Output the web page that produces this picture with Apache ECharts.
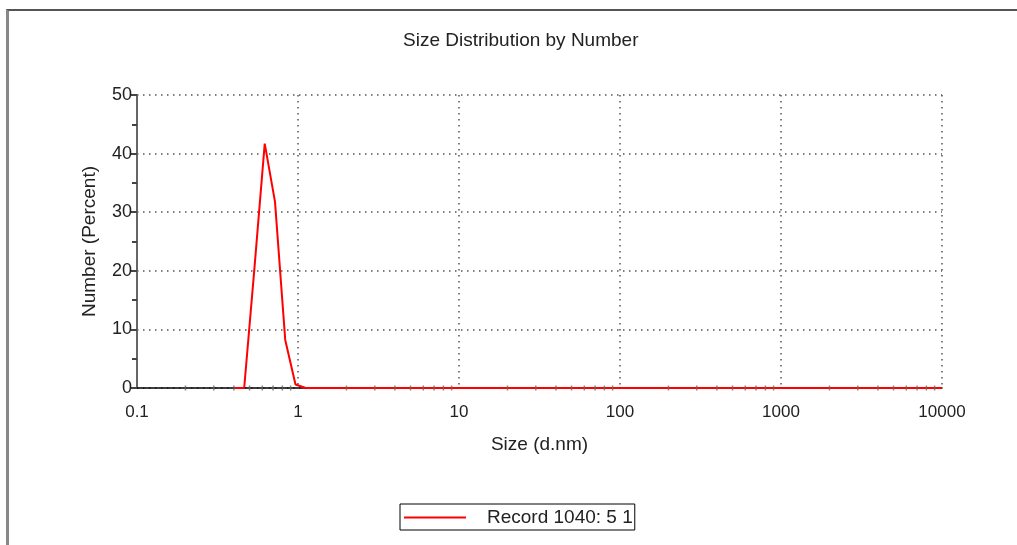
<!DOCTYPE html>
<html>
<head>
<meta charset="utf-8">
<script src="https://cdn.jsdelivr.net/npm/echarts@6/dist/echarts.min.js"></script>
<style>
html,body{margin:0;padding:0;background:#fff;}
#chart{width:1017px;height:545px;position:absolute;left:0;top:0;}
#frame{position:absolute;left:6px;top:9px;width:1011px;height:536px;border-top:2px solid #555;border-left:3px solid #888;box-sizing:border-box;pointer-events:none;}
</style>
</head>
<body>
<div id="chart"></div>
<div id="frame"></div>
<script>
const titleText = 'Size Distribution by Number';
const xAxisName = 'Size (d.nm)';
const yAxisName = 'Number (Percent)';
const seriesName = 'Record 1040: 5 1';
const xTickLabels = ['0.1', '1', '10', '100', '1000', '10000'];
const sizes = [0.4000, 0.4632, 0.5365, 0.6213, 0.7195, 0.8332, 0.9649, 1.117, 1.294, 1.499,
  1.736, 2.010, 2.328, 2.696, 3.122, 3.615, 4.187, 4.849, 5.615, 6.503,
  7.531, 8.721, 10.10, 11.70, 13.54, 15.69, 18.17, 21.04, 24.36, 28.21,
  32.67, 37.84, 43.82, 50.75, 58.77, 68.06, 78.82, 91.28, 105.7, 122.4,
  141.8, 164.2, 190.1, 220.2, 255.0, 295.3, 342.0, 396.1, 458.7, 531.2,
  615.1, 712.4, 825.0, 955.4, 1106, 1281, 1484, 1718, 1990, 2305,
  2669, 3091, 3580, 4145, 4801, 5560, 6439, 7456, 8635, 10000];
const numberPct = [0, 0, 20.5, 41.7, 31.8, 8.2, 0.6, 0, 0, 0,
  0, 0, 0, 0, 0, 0, 0, 0, 0, 0,
  0, 0, 0, 0, 0, 0, 0, 0, 0, 0,
  0, 0, 0, 0, 0, 0, 0, 0, 0, 0,
  0, 0, 0, 0, 0, 0, 0, 0, 0, 0,
  0, 0, 0, 0, 0, 0, 0, 0, 0, 0,
  0, 0, 0, 0, 0, 0, 0, 0, 0, 0];

// minor tick positions on the log axis (2..9 within each decade)
const minorTickPos = [];
for (let d = 0.1; d < 10000; d *= 10) {
  for (let k = 2; k <= 9; k++) minorTickPos.push([+(d * k).toPrecision(6), 0]);
}

const FONT = '"Liberation Sans", Arial, sans-serif';
const chart = echarts.init(document.getElementById('chart'), null, {renderer: 'canvas'});
const dotted = {color: '#555', width: 1.5, type: [1.5, 4.5]};

chart.setOption({
  animation: false,
  backgroundColor: '#fff',
  title: {
    text: titleText, left: 398, top: 26,
    textStyle: {fontFamily: FONT, fontSize: 19, fontWeight: 'normal', color: '#222'}
  },
  grid: {left: 137, right: 75, top: 95, bottom: 157},
  legend: {
    data: [seriesName],
    left: 400, top: 504,
    padding: [4, 2, 3, 4],
    icon: 'rect',
    itemWidth: 62, itemHeight: 2,
    borderColor: '#000', borderWidth: 1, borderRadius: 0,
    textStyle: {fontFamily: FONT, fontSize: 19, color: '#222', padding: [0, 0, 0, 16]}
  },
  xAxis: {
    type: 'log', logBase: 10, min: 0.1, max: 10000,
    name: xAxisName, nameLocation: 'middle', nameGap: 47,
    nameTextStyle: {fontFamily: FONT, fontSize: 19, color: '#222'},
    axisLine: {show: true, onZero: false, lineStyle: {color: '#000', width: 1.5}},
    axisTick: {show: false},
    axisLabel: {
      fontFamily: FONT, fontSize: 17, color: '#222', margin: 16,
      formatter: function (v) {
        const e = Math.round(Math.log10(v)) + 1;
        return xTickLabels[e] !== undefined ? xTickLabels[e] : '';
      }
    },
    splitLine: {show: true, lineStyle: dotted}
  },
  yAxis: {
    type: 'value', min: 0, max: 50, interval: 10,
    name: yAxisName, nameLocation: 'middle', nameGap: 38,
    nameTextStyle: {fontFamily: FONT, fontSize: 19, color: '#222'},
    axisLine: {show: true, lineStyle: {color: '#666', width: 2}},
    axisTick: {show: true, length: 6, lineStyle: {color: '#444', width: 2}},
    minorTick: {show: true, splitNumber: 2, length: 5, lineStyle: {color: '#444', width: 2}},
    axisLabel: {fontFamily: FONT, fontSize: 18, color: '#222', margin: 5},
    splitLine: {show: true, lineStyle: dotted}
  },
  series: [
    {
      name: seriesName, type: 'line',
      data: sizes.map((s, i) => [s, numberPct[i]]),
      symbol: 'none', showSymbol: false, smooth: false,
      lineStyle: {color: '#ff0000', width: 2}, itemStyle: {color: '#ff0000'},
      z: 3
    },
    {
      name: 'minorTicks', type: 'scatter', data: minorTickPos,
      symbol: 'rect', symbolSize: [1.5, 5],
      itemStyle: {color: '#666'}, silent: true, z: 4
    }
  ]
});
</script>
</body>
</html>
